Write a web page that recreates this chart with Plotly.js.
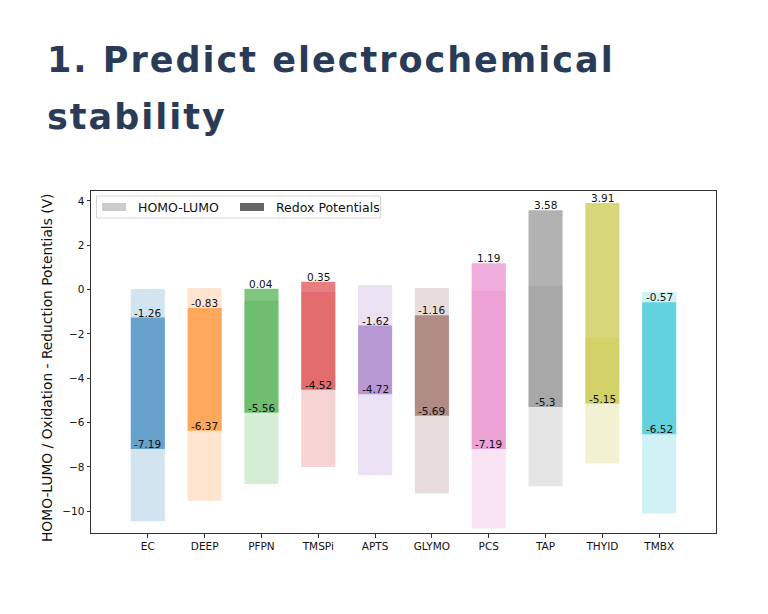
<!DOCTYPE html>
<html><head><meta charset="utf-8">
<script src="https://cdn.plot.ly/plotly-3.0.1.min.js"></script>
<style>html,body{margin:0;padding:0;background:#fff;} #chart{width:768px;height:614px;}</style>
</head><body><div id="chart"></div>
<script>
const categories = ['EC','DEEP','PFPN','TMSPi','APTS','GLYMO','PCS','TAP','THYID','TMBX'];
const colors = ['#1f77b4','#ff7f0e','#2ca02c','#d62728','#9467bd','#8c564b','#e377c2','#7f7f7f','#bcbd22','#17becf'];
const homoLumoTop = [0.03, 0.07, -0.50, -0.11, 0.21, 0.07, -0.05, 0.16, -2.17, -0.11];
const homoLumoBottom = [-10.45, -9.53, -8.77, -8.00, -8.37, -9.20, -10.78, -8.87, -7.85, -10.10];
const redoxTop = [-1.26, -0.83, 0.04, 0.35, -1.62, -1.16, 1.19, 3.58, 3.91, -0.57];
const redoxBottom = [-7.19, -6.37, -5.56, -4.52, -4.72, -5.69, -7.19, -5.3, -5.15, -6.52];
const yTicks = [-10, -8, -6, -4, -2, 0, 2, 4];
const legendLabels = ['HOMO-LUMO', 'Redox Potentials'];
const titleLines = ['1. Predict electrochemical', 'stability'];

const W = 768, H = 614;
const PL = 91, PR = 716, PT = 191, PB = 533;
const px = v => (v - PL) / (PR - PL);
const py = v => (PB - v) / (PB - PT);

const font = 'DejaVu Sans, sans-serif';
const titleFont = {family: 'DejaVu Sans, sans-serif', size: 35, weight: 700, color: '#293b56'};
const LS = 2; // title letter spacing, px

const traces = [
  {
    type: 'bar', x: categories, base: homoLumoBottom,
    y: homoLumoTop.map((t, i) => t - homoLumoBottom[i]),
    width: 0.6, marker: {color: colors, opacity: 0.2, line: {width: 0}},
    hoverinfo: 'skip', showlegend: false
  },
  {
    type: 'bar', x: categories, base: redoxBottom,
    y: redoxTop.map((t, i) => t - redoxBottom[i]),
    width: 0.6, marker: {color: colors, opacity: 0.6, line: {width: 0}},
    hoverinfo: 'skip', showlegend: false
  }
];

const annotations = [];
categories.forEach((c, i) => {
  [redoxTop[i], redoxBottom[i]].forEach(v => {
    annotations.push({
      x: c, y: v, xref: 'x', yref: 'y', text: String(v), showarrow: false,
      xanchor: 'center', yanchor: 'bottom', yshift: -3,
      font: {family: font, size: 10.5, color: '#111'}
    });
  });
});

// title
annotations.push({
  xref: 'paper', yref: 'paper', x: px(45), y: py(73), xanchor: 'left', yanchor: 'bottom', yshift: -9,
  xshift: LS * titleLines[0].length / 2,
  text: titleLines[0], showarrow: false, font: titleFont
});
annotations.push({
  xref: 'paper', yref: 'paper', x: px(45), y: py(130), xanchor: 'left', yanchor: 'bottom', yshift: -9,
  xshift: LS * titleLines[1].length / 2,
  text: titleLines[1], showarrow: false, font: titleFont
});
// y axis title
annotations.push({
  xref: 'paper', yref: 'paper', x: px(47), y: py(368), xanchor: 'center', yanchor: 'middle',
  text: 'HOMO-LUMO / Oxidation - Reduction Potentials (V)', textangle: -90, showarrow: false,
  font: {family: font, size: 13.8, color: '#111'}
});
// legend texts
annotations.push({
  xref: 'paper', yref: 'paper', x: px(136), y: py(207), xanchor: 'left', yanchor: 'middle',
  text: legendLabels[0], showarrow: false, font: {family: font, size: 12.5, color: '#111'}
});
annotations.push({
  xref: 'paper', yref: 'paper', x: px(274), y: py(207), xanchor: 'left', yanchor: 'middle',
  text: legendLabels[1], showarrow: false, font: {family: font, size: 12.5, color: '#111'}
});

const shapes = [
  {type: 'rect', xref: 'paper', yref: 'paper', x0: px(96.5), x1: px(380.5), y0: py(218), y1: py(196),
   line: {color: '#d6d6d6', width: 1}, fillcolor: 'rgba(255,255,255,0.8)'},
  {type: 'rect', xref: 'paper', yref: 'paper', x0: px(102), x1: px(126), y0: py(211), y1: py(203),
   line: {width: 0}, fillcolor: '#cccccc'},
  {type: 'rect', xref: 'paper', yref: 'paper', x0: px(240), x1: px(264), y0: py(211), y1: py(203),
   line: {width: 0}, fillcolor: '#666666'}
];

const layout = {
  width: W, height: H,
  margin: {l: PL, r: W - PR, t: PT, b: H - PB, pad: 0},
  paper_bgcolor: '#ffffff', plot_bgcolor: '#ffffff',
  barmode: 'overlay', showlegend: false,
  xaxis: {
    type: 'category', range: [-1, 10], showgrid: false, zeroline: false,
    showline: true, mirror: true, linecolor: '#333', linewidth: 1,
    ticks: 'outside', ticklen: 3.5, tickcolor: '#333', tickwidth: 1,
    tickfont: {family: font, size: 10.5, color: '#111'}, fixedrange: true
  },
  yaxis: {
    range: [-10.98, 4.45], tickvals: yTicks, showgrid: false, zeroline: false,
    showline: true, mirror: true, linecolor: '#333', linewidth: 1,
    ticks: 'outside', ticklen: 3.5, tickcolor: '#333', tickwidth: 1,
    tickfont: {family: font, size: 10.5, color: '#111'}, fixedrange: true
  },
  annotations: annotations,
  shapes: shapes
};

Plotly.newPlot('chart', traces, layout, {displayModeBar: false, staticPlot: true}).then(() => {
  document.querySelectorAll('.annotation-text').forEach(el => {
    if (titleLines.includes(el.textContent)) el.style.letterSpacing = LS + 'px';
  });
});
</script>
</body></html>
